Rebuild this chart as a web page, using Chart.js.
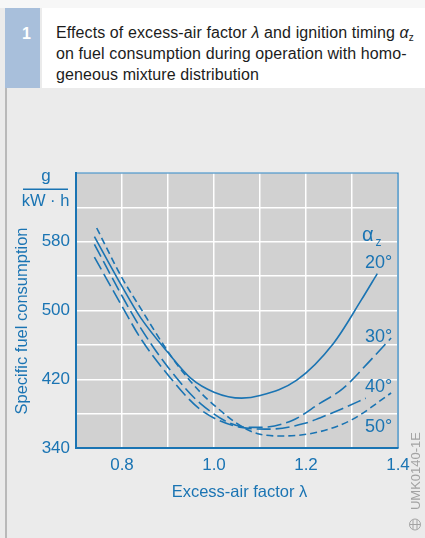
<!DOCTYPE html>
<html>
<head>
<meta charset="utf-8">
<script src="https://cdn.jsdelivr.net/npm/chart.js@4.4.1/dist/chart.umd.min.js"></script>
<style>
  html, body { margin:0; padding:0; background:#ebebeb; }
  #wrap { position:relative; width:425px; height:538px; background:#ebebeb; overflow:hidden; font-family:"Liberation Sans", Arial, sans-serif; }
  #topstrip { position:absolute; left:0; top:0; width:425px; height:8px; background:#f7f7f7; }
  #num { position:absolute; left:5px; top:8px; width:35px; height:80px; background:#a8bfdb; color:#fff; font-weight:bold; font-size:16px; line-height:16px; }
  #num span { position:absolute; left:17px; top:18px; }
  #ttl { position:absolute; left:42px; top:8px; width:383px; height:80px; background:#fff; color:#1c1c1c; font-size:16px; line-height:21px; letter-spacing:0.1px; }
  #ttl div { position:absolute; left:14px; top:13.5px; white-space:nowrap; }
  #ttl sub { font-size:10px; line-height:0; vertical-align:0; position:relative; top:3px; }
  #leftline { position:absolute; left:5px; top:88px; width:2px; height:450px; background:#b9b9b9; }
  canvas { position:absolute; left:0; top:0; }
</style>
</head>
<body>
<div id="wrap">
  <div id="topstrip"></div>
  <div id="num"><span>1</span></div>
  <div id="ttl"><div>Effects of excess-air factor <i>λ</i> and ignition timing <i>α</i><sub>z</sub><br>on fuel consumption during operation with homo-<br>geneous mixture distribution</div></div>
  <div id="leftline"></div>
  <canvas id="c" width="425" height="538"></canvas>
</div>
<script>
// ---- data ----
const lambda20 = [0.74, 0.80, 0.84, 0.90, 0.95, 1.00, 1.06, 1.10, 1.18, 1.26, 1.32, 1.355];
const sfc20    = [586, 528, 492, 451, 421, 405, 398, 401, 419, 462, 512, 543];

const lambda30 = [0.74, 0.80, 0.84, 0.90, 0.97, 1.06, 1.10, 1.17, 1.23, 1.28, 1.34, 1.385];
const sfc30    = [577, 517, 480, 434, 392, 365, 364, 372, 392, 409, 442, 468];

const lambda40 = [0.74, 0.80, 0.84, 0.90, 0.97, 1.06, 1.12, 1.20, 1.23, 1.28, 1.33];
const sfc40    = [562, 505, 468, 425, 385, 364, 362, 369, 375, 386, 398];

const lambda50 = [0.745, 0.80, 0.84, 0.90, 0.93, 0.97, 1.00, 1.06, 1.10, 1.15, 1.23, 1.30, 1.385];
const sfc50    = [596, 538, 503, 452, 430, 405, 390, 365, 356, 354, 359, 373, 404];

const seriesNames = ['20°', '30°', '40°', '50°'];
const xTickLabels = [0.8, 1.0, 1.2, 1.4];
const yTickLabels = [340, 420, 500, 580];

// ---- styling ----
const BLUE = '#1a74b3';
const FONT = '"Liberation Sans", Arial, sans-serif';

function pts(xs, ys) { return xs.map((x, i) => ({ x: x, y: ys[i] })); }

const lineBase = { borderColor: BLUE, borderWidth: 1.6, pointRadius: 0, fill: false, cubicInterpolationMode: 'monotone' };

// label anchors (in data units) for the series annotations
const annot = [
  { text: seriesNames[0], x: 1.3876, y: 549 },
  { text: seriesNames[1], x: 1.3876, y: 463 },
  { text: seriesNames[2], x: 1.3876, y: 405 },
  { text: seriesNames[3], x: 1.3876, y: 358.6 }
];

const decor = {
  id: 'decor',
  beforeDraw(chart) {
    const { ctx, chartArea: a } = chart;
    ctx.save();
    ctx.fillStyle = '#d1d1d1';
    ctx.fillRect(a.left, a.top, a.right - a.left, a.bottom - a.top);
    ctx.restore();
  },
  afterDraw(chart) {
    const { ctx, chartArea: a, scales } = chart;
    const xs = scales.x, ys = scales.y;
    ctx.save();
    // frame
    ctx.strokeStyle = BLUE;
    ctx.lineWidth = 1.2;
    ctx.beginPath();
    ctx.moveTo(a.left, a.top); ctx.lineTo(a.right, a.top); ctx.lineTo(a.right, a.bottom);
    ctx.stroke();

    ctx.fillStyle = BLUE;
    // unit fraction
    ctx.textAlign = 'center';
    ctx.textBaseline = 'alphabetic';
    ctx.font = '17px ' + FONT;
    ctx.fillText('g', 46, 181);
    ctx.font = '16.5px ' + FONT;
    ctx.fillText('kW · h', 45.5, 206);
    ctx.fillRect(23, 188.5, 45, 1.5);

    // y title
    ctx.save();
    ctx.translate(27, 321);
    ctx.rotate(-Math.PI / 2);
    ctx.font = '16.5px ' + FONT;
    ctx.textAlign = 'center';
    ctx.fillText('Specific fuel consumption', 0, 0);
    ctx.restore();

    // x title
    ctx.font = '16.5px ' + FONT;
    ctx.textAlign = 'center';
    ctx.fillText('Excess-air factor λ', 239.5, 497);

    // series labels
    ctx.textAlign = 'right';
    ctx.font = '18px ' + FONT;
    annot.forEach(l => {
      ctx.fillText(l.text, xs.getPixelForValue(l.x), ys.getPixelForValue(l.y));
    });
    // alpha_z
    ctx.textAlign = 'left';
    ctx.font = '20px ' + FONT;
    ctx.fillText('α', 362, 241);
    ctx.font = '12px ' + FONT;
    ctx.fillText('z', 375.5, 246);

    // watermark
    ctx.fillStyle = '#a3a3a3';
    ctx.save();
    ctx.translate(420, 471);
    ctx.rotate(-Math.PI / 2);
    ctx.font = '13px ' + FONT;
    ctx.textAlign = 'center';
    ctx.fillText('UMK0140-1E', 0, 0);
    ctx.restore();
    ctx.strokeStyle = '#a3a3a3';
    ctx.lineWidth = 1;
    ctx.beginPath(); ctx.arc(415, 524.5, 5.5, 0, Math.PI * 2); ctx.stroke();
    ctx.beginPath();
    ctx.moveTo(409.5, 524.5); ctx.lineTo(420.5, 524.5);
    ctx.moveTo(413, 520); ctx.lineTo(413, 529);
    ctx.moveTo(417, 520); ctx.lineTo(417, 529);
    ctx.stroke();
    ctx.restore();
  }
};

new Chart(document.getElementById('c'), {
  type: 'line',
  data: {
    datasets: [
      Object.assign({ label: seriesNames[0], data: pts(lambda20, sfc20) }, lineBase),
      Object.assign({ label: seriesNames[1], data: pts(lambda30, sfc30), borderDash: [14, 5] }, lineBase),
      Object.assign({ label: seriesNames[2], data: pts(lambda40, sfc40), borderDash: [14, 5] }, lineBase),
      Object.assign({ label: seriesNames[3], data: pts(lambda50, sfc50), borderDash: [7, 4] }, lineBase)
    ]
  },
  options: {
    responsive: false,
    animation: false,
    layout: { padding: { top: 173, right: 27, left: 0, bottom: 0 } },
    plugins: { legend: { display: false }, tooltip: { enabled: false }, title: { display: false } },
    scales: {
      x: {
        type: 'linear', min: 0.7, max: 1.4,
        afterFit: s => { s.height = 90; },
        ticks: {
          stepSize: 0.1, autoSkip: false, maxRotation: 0, padding: 7,
          color: BLUE, font: { family: FONT, size: 17 },
          callback: v => {
            const r = Math.round(v * 10) / 10;
            return xTickLabels.some(t => Math.abs(t - r) < 1e-6) ? r.toFixed(1) : '';
          }
        },
        grid: { color: '#ffffff', lineWidth: 1.5, drawTicks: false },
        border: { display: true, color: BLUE, width: 2 }
      },
      y: {
        min: 340, max: 660,
        afterFit: s => { s.width = 76; },
        ticks: {
          stepSize: 40, autoSkip: false, padding: 6,
          color: BLUE, font: { family: FONT, size: 17 },
          callback: v => yTickLabels.includes(v) ? String(v) : ''
        },
        grid: { color: '#ffffff', lineWidth: 1.5, drawTicks: false },
        border: { display: true, color: BLUE, width: 2 }
      }
    }
  },
  plugins: [decor]
});
</script>
</body>
</html>
